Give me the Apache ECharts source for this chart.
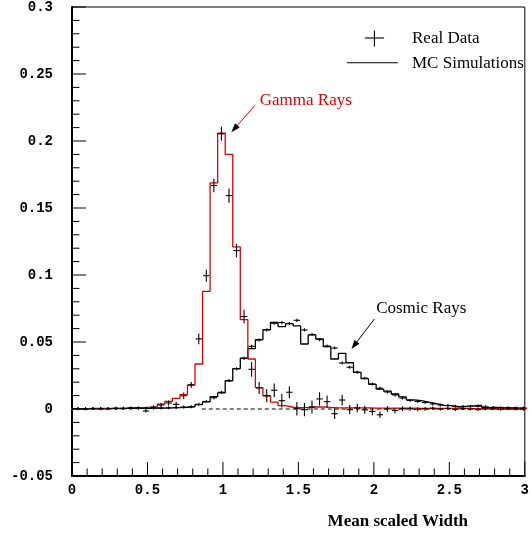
<!DOCTYPE html>
<html><head><meta charset="utf-8">
<script src="https://cdn.jsdelivr.net/npm/echarts@6/dist/echarts.min.js"></script>
<style>html,body{margin:0;padding:0;background:#fff;} #c{width:532px;height:534px;}</style>
</head><body><div id="c"></div>
<script>
// ---------- data ----------
const binStart = -0.035;    // left edge of first bin
const binWidth = 0.05;      // bin width (Mean scaled Width)

// MC simulation histograms (per bin)
const gammaMC = [
  0.0003,0.0003,0.0003,0.0004,0.0004,0.0005,0.0005,0.0006,0.0010,0.0011,
  0.0012,0.0012,0.0037,0.0057,0.0079,0.0107,0.0179,0.0336,0.0878,0.1688,
  0.2058,0.1900,0.1210,0.0667,0.0373,0.0160,0.0099,0.0052,0.0025,0.0013,
  0.0010,0.0012,0.0015,0.0016,0.0012,0.0009,0.0009,0.0008,0.0008,0.0008,
  0.0007,0.0007,0.0007,0.0006,0.0006,0.0006,0.0005,0.0005,0.0005,0.0004,
  0.0004,0.0004,0.0004,0.0003,0.0003,0.0003,0.0003,0.0003,0.0002,0.0002,
  0.0002
];
const cosmicMC = [
  0.0001,0.0001,0.0002,0.0002,0.0002,0.0003,0.0003,0.0004,0.0004,0.0005,
  0.0005,0.0006,0.0007,0.0008,0.0010,0.0013,0.0017,0.0032,0.0054,0.0092,
  0.0120,0.0211,0.0302,0.0380,0.0450,0.0517,0.0593,0.0647,0.0615,0.0637,
  0.0620,0.0485,0.0553,0.0523,0.0465,0.0373,0.0415,0.0345,0.0273,0.0226,
  0.0184,0.0149,0.0133,0.0112,0.0090,0.0068,0.0062,0.0052,0.0040,0.0027,
  0.0025,0.0015,0.0020,0.0024,0.0026,0.0011,0.0012,0.0009,0.0008,0.0007,
  0.0006
];

// Real data (per bin) with vertical error
const gammaData = [
  0.0002,0.0003,0.0001,0.0004,0.0003,0.0002,0.0006,0.0005,0.0008,0.0008,
  -0.0015,0.0015,0.0030,0.0045,0.0035,0.0099,0.0180,0.0523,0.0995,0.1668,
  0.2054,0.1593,0.1182,0.0690,0.0296,0.0157,0.0099,0.0140,0.0062,0.0125,
  0.0002,-0.0005,0.0015,0.0075,0.0055,-0.0035,0.0067,-0.0005,0.0008,-0.0006,
  -0.0018,-0.0043,0.0001,-0.0012,0.0002,0.0003,-0.0002,0.0001,0.0006,0.0000,
  0.0004,-0.0003,0.0002,0.0000,-0.0004,0.0002,0.0001,-0.0002,0.0001,0.0000,
  -0.0001
];
const gammaErr = [
  0.0006,0.0006,0.0006,0.0006,0.0007,0.0007,0.0008,0.0008,0.0009,0.0009,
  0.0010,0.0012,0.0015,0.0018,0.0020,0.0024,0.0022,0.0040,0.0045,0.0050,
  0.0052,0.0053,0.0050,0.0050,0.0055,0.0045,0.0048,0.0050,0.0050,0.0045,
  0.0050,0.0050,0.0048,0.0050,0.0045,0.0040,0.0040,0.0035,0.0032,0.0030,
  0.0028,0.0025,0.0022,0.0020,0.0018,0.0016,0.0015,0.0014,0.0013,0.0012,
  0.0012,0.0011,0.0011,0.0010,0.0010,0.0010,0.0009,0.0009,0.0008,0.0008,
  0.0008
];
const cosmicData = [
  0.0001,0.0002,0.0001,0.0003,0.0002,0.0003,0.0004,0.0003,0.0005,0.0005,
  0.0006,0.0006,0.0008,0.0009,0.0011,0.0014,0.0016,0.0035,0.0056,0.0084,
  0.0125,0.0212,0.0300,0.0378,0.0468,0.0515,0.0590,0.0640,0.0645,0.0638,
  0.0662,0.0590,0.0556,0.0518,0.0470,0.0455,0.0343,0.0312,0.0275,0.0230,
  0.0187,0.0155,0.0127,0.0105,0.0082,0.0064,0.0057,0.0049,0.0038,0.0030,
  0.0026,0.0020,0.0019,0.0020,0.0022,0.0016,0.0012,0.0010,0.0009,0.0008,
  0.0007
];
const cosmicErr = [
  0.0003,0.0003,0.0003,0.0003,0.0003,0.0003,0.0003,0.0003,0.0003,0.0003,
  0.0004,0.0004,0.0004,0.0004,0.0005,0.0005,0.0006,0.0007,0.0008,0.0009,
  0.0010,0.0011,0.0011,0.0012,0.0012,0.0012,0.0012,0.0012,0.0012,0.0012,
  0.0012,0.0012,0.0012,0.0012,0.0011,0.0011,0.0011,0.0010,0.0010,0.0009,
  0.0009,0.0008,0.0008,0.0007,0.0007,0.0006,0.0006,0.0006,0.0005,0.0005,
  0.0005,0.0005,0.0004,0.0004,0.0004,0.0004,0.0004,0.0003,0.0003,0.0003,
  0.0003
];

// axis ticks
const xMajorTicks = [0, 0.5, 1, 1.5, 2, 2.5, 3];
const xMinorStep = 0.1;
const yMajorTicks = [-0.05, 0, 0.05, 0.1, 0.15, 0.2, 0.25, 0.3];
const yMinorStep = 0.01;

const zeroLineX = [0.86, 3];
const legendLabels = ['Real Data', 'MC Simulations'];
const xAxisTitle = 'Mean scaled Width';
const annotationTexts = ['Gamma Rays', 'Cosmic Rays'];

// ---------- build ----------
const X_MIN = 0, X_MAX = 3, Y_MIN = -0.05, Y_MAX = 0.3;
function stepData(vals) {
  const d = vals.map((v, i) => [binStart + i * binWidth, v]);
  d.push([binStart + vals.length * binWidth, vals[vals.length - 1]]);
  return d;
}
function crossData(vals, errs) {
  return vals.map((v, i) => [binStart + (i + 0.5) * binWidth, v, errs[i]]);
}
const crossHalf = 0.021;
function crossRender(params, api) {
  const x = api.value(0), y = api.value(1), e = api.value(2);
  const c = api.coord([x, y]);
  const t = api.coord([x, y + e]);
  const b = api.coord([x, y - e]);
  const hw = api.size([crossHalf, 0])[0];
  const top = Math.min(t[1], c[1] - 1.5), bot = Math.max(b[1], c[1] + 1.5);
  const st = { stroke: '#000', lineWidth: 1.1 };
  return { type: 'group', children: [
    { type: 'line', shape: { x1: c[0] - hw, y1: c[1], x2: c[0] + hw, y2: c[1] }, style: st },
    { type: 'line', shape: { x1: c[0], y1: top, x2: c[0], y2: bot }, style: st }
  ]};
}

// tick list: [value, axis(0=x,1=y), length]
const tickList = [];
xMajorTicks.forEach(v => tickList.push([v, 0, 14]));
for (let i = 1; i < Math.round((X_MAX - X_MIN) / xMinorStep); i++) {
  const v = X_MIN + i * xMinorStep;
  if (i % 5 !== 0) tickList.push([v, 0, 7.5]);
}
yMajorTicks.forEach(v => tickList.push([v, 1, 14]));
for (let i = 1; i < Math.round((Y_MAX - Y_MIN) / yMinorStep); i++) {
  const v = Y_MIN + i * yMinorStep;
  if (i % 5 !== 0) tickList.push([v, 1, 7.5]);
}
function tickRender(params, api) {
  const v = api.value(0), ax = api.value(1), len = api.value(2);
  const st = { stroke: '#000', lineWidth: 1 };
  if (ax === 0) {
    const p = api.coord([v, Y_MIN]);
    return { type: 'line', shape: { x1: p[0], y1: p[1], x2: p[0], y2: p[1] - len }, style: st };
  }
  const p = api.coord([X_MIN, v]);
  return { type: 'line', shape: { x1: p[0], y1: p[1], x2: p[0] + len, y2: p[1] }, style: st };
}

const annot = [
  { color: '#e00000', label: [1.2438, 0.2300], from: [1.2105, 0.2264], to: [1.0562, 0.2066] },
  { color: '#000000', label: [2.015, 0.0749], from: [2.0039, 0.0672], to: [1.8516, 0.0448] }
];
function annotRender(params, api) {
  const i = api.value(2);
  const a = annot[i];
  const pf = api.coord(a.from), pt = api.coord(a.to), pl = api.coord(a.label);
  let dx = pt[0] - pf[0], dy = pt[1] - pf[1];
  const L = Math.sqrt(dx * dx + dy * dy); dx /= L; dy /= L;
  const hl = 9, hwid = 3.2;
  const bx = pt[0] - dx * hl, by = pt[1] - dy * hl;
  return { type: 'group', children: [
    { type: 'line', shape: { x1: pf[0], y1: pf[1], x2: bx + dx * 2, y2: by + dy * 2 }, style: { stroke: a.color, lineWidth: 1 } },
    { type: 'polygon', shape: { points: [[pt[0], pt[1]], [bx - dy * hwid, by + dx * hwid], [bx + dy * hwid, by - dx * hwid]] }, style: { fill: '#000' } },
    { type: 'text', x: pl[0], y: pl[1], style: { text: annotationTexts[i], fill: a.color, font: '17px "Liberation Serif"', align: 'left', verticalAlign: 'middle' } }
  ]};
}

const tickFont = { fontFamily: 'Liberation Mono', fontWeight: 'bold', fontSize: 14, color: '#000' };
const serif = '17px "Liberation Serif"';
const chart = echarts.init(document.getElementById('c'), null, { renderer: 'canvas' });
chart.setOption({
  animation: false,
  backgroundColor: '#fff',
  grid: { left: 72, right: 1.5, top: 7, bottom: 58, show: true, borderColor: '#000', borderWidth: 1, backgroundColor: 'transparent' },
  xAxis: {
    type: 'value', min: X_MIN, max: X_MAX, interval: 0.5,
    axisLine: { show: true, onZero: false, lineStyle: { color: '#000', width: 2 } },
    axisTick: { show: false }, minorTick: { show: false },
    splitLine: { show: false },
    axisLabel: Object.assign({ margin: 7, formatter: v => String(Math.round(v * 10) / 10) }, tickFont)
  },
  yAxis: {
    type: 'value', min: Y_MIN, max: Y_MAX, interval: 0.05,
    axisLine: { show: true, onZero: false, lineStyle: { color: '#000', width: 2 } },
    axisTick: { show: false }, minorTick: { show: false },
    splitLine: { show: false },
    axisLabel: Object.assign({ margin: 19, formatter: v => String(Math.round(v * 100) / 100) }, tickFont)
  },
  series: [
    { type: 'line', data: zeroLineX.map(x => [x, 0]), showSymbol: false, silent: true, z: 1,
      lineStyle: { color: '#000', width: 1, type: [4, 3] } },
    { type: 'line', step: 'end', data: stepData(cosmicMC), showSymbol: false, silent: true, z: 2,
      lineStyle: { color: '#000', width: 1.3 } },
    { type: 'line', step: 'end', data: stepData(gammaMC), showSymbol: false, silent: true, z: 3,
      lineStyle: { color: '#e00000', width: 1.3 } },
    { type: 'custom', data: crossData(cosmicData, cosmicErr), renderItem: crossRender, clip: true, silent: true, z: 4 },
    { type: 'custom', data: crossData(gammaData, gammaErr), renderItem: crossRender, clip: true, silent: true, z: 4 },
    { type: 'custom', data: annot.map((a, i) => [a.to[0], a.to[1], i]), renderItem: annotRender, silent: true, z: 5 },
    { type: 'custom', data: tickList, renderItem: tickRender, silent: true, clip: false, z: 6 }
  ],
  graphic: [
    { type: 'line', shape: { x1: 364.8, y1: 38, x2: 384.1, y2: 38 }, style: { stroke: '#000', lineWidth: 1.1 } },
    { type: 'line', shape: { x1: 374.4, y1: 30.5, x2: 374.4, y2: 46.5 }, style: { stroke: '#000', lineWidth: 1.1 } },
    { type: 'text', x: 412, y: 38.5, style: { text: legendLabels[0], font: serif, fill: '#000', verticalAlign: 'middle' } },
    { type: 'line', shape: { x1: 346.8, y1: 62.8, x2: 397.7, y2: 62.8 }, style: { stroke: '#000', lineWidth: 1.1 } },
    { type: 'text', x: 412, y: 63.5, style: { text: legendLabels[1], font: serif, fill: '#000', verticalAlign: 'middle' } },
    { type: 'text', x: 468, y: 521.5, style: { text: xAxisTitle, font: 'bold 17px "Liberation Serif"', fill: '#000', align: 'right', verticalAlign: 'middle' } }
  ]
});
</script></body></html>
